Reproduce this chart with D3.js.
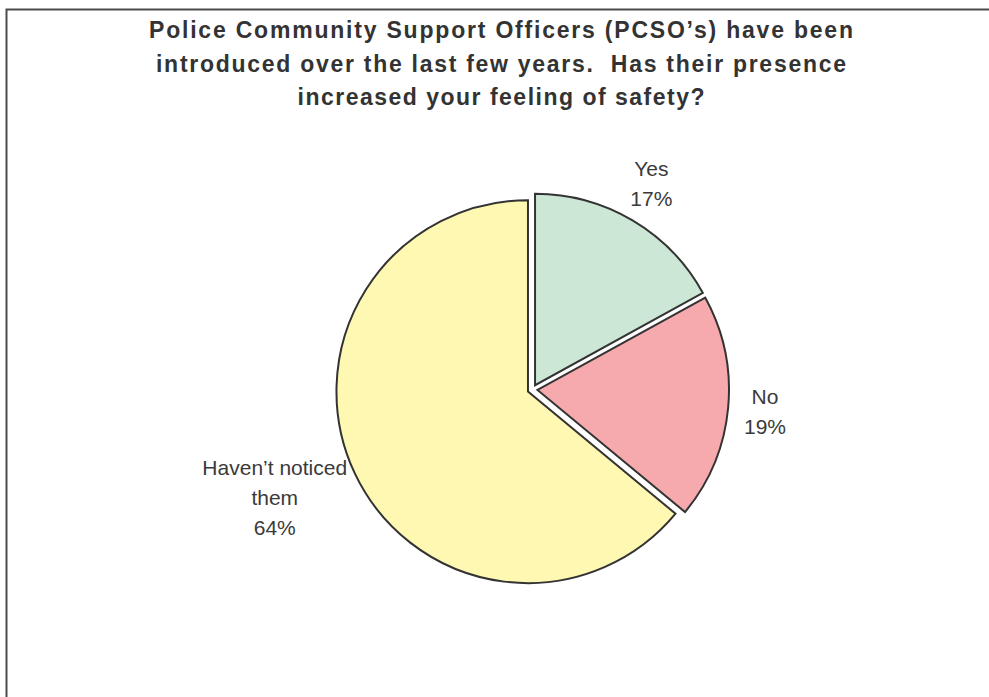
<!DOCTYPE html>
<html>
<head>
<meta charset="utf-8">
<script src="https://cdn.jsdelivr.net/npm/d3@7"></script>
<style>
  html, body { margin: 0; padding: 0; background: #fff; }
  svg { display: block; }
  text { white-space: pre; }
</style>
</head>
<body>
<script>
// ---- data ----
const titleLines = [
  "Police Community Support Officers (PCSO\u2019s) have been",
  "introduced over the last few years.  Has their presence",
  "increased your feeling of safety?"
];
const categories = ["Yes", "No", "Haven\u2019t noticed them"];
const labelLines = [["Yes"], ["No"], ["Haven\u2019t noticed", "them"]];
const values = [17, 19, 64];
const colors = ["#cde7d6", "#f7aaad", "#fff8b2"];

// ---- layout ----
const W = 989, H = 697;
const cx = 532.5, cy = 389.5, r = 191.5, explode = 5;

const svg = d3.select("body").append("svg")
  .attr("width", W).attr("height", H);

svg.append("rect")
  .attr("x", 6.5).attr("y", 9.5)
  .attr("width", W + 20).attr("height", H + 20)
  .attr("fill", "#fff")
  .attr("stroke", "#4a4a4a").attr("stroke-width", 2);

// title
const titleWidths = [704, 690, 407];
svg.append("g").selectAll("text")
  .data(titleLines)
  .join("text")
  .attr("x", 501)
  .attr("y", (d, i) => 38 + i * 33.5)
  .attr("text-anchor", "middle")
  .attr("font-family", "'Liberation Sans', Arial, sans-serif")
  .attr("font-weight", "bold")
  .attr("font-size", 23)
  .attr("fill", "#333")
  .attr("textLength", (d, i) => titleWidths[i])
  .attr("lengthAdjust", "spacing")
  .text(d => d);

// pie
const pie = d3.pie().sort(null).value(d => d)(values);
const arc = d3.arc().innerRadius(0).outerRadius(r);

const g = svg.append("g").attr("transform", `translate(${cx},${cy})`);

pie.forEach((p, i) => {
  const mid = (p.startAngle + p.endAngle) / 2;
  const ux = Math.sin(mid), uy = -Math.cos(mid);
  g.append("path")
    .attr("d", arc(p))
    .attr("transform", `translate(${ux * explode},${uy * explode})`)
    .attr("fill", colors[i])
    .attr("stroke", "#333")
    .attr("stroke-width", 2)
    .attr("stroke-linejoin", "miter");
});

// labels
const lineH = 30;
pie.forEach((p, i) => {
  const mid = (p.startAngle + p.endAngle) / 2;
  const ux = Math.sin(mid), uy = -Math.cos(mid);
  const lines = labelLines[i].concat([values[i] + "%"]);
  const t = g.append("text")
    .attr("text-anchor", "middle")
    .attr("font-family", "'Liberation Sans', Arial, sans-serif")
    .attr("font-size", 21)
    .attr("fill", "#3a3a3a");
  lines.forEach((l, k) => {
    t.append("tspan").attr("x", 0).attr("y", k * lineH).text(l);
  });
  const bb = t.node().getBBox();
  const dist = r + explode + 16;
  const px = ux * dist, py = uy * dist;
  const bcx = px + ux * bb.width / 2;
  const bcy = py + uy * bb.height / 2;
  const ox = bcx - (bb.x + bb.width / 2);
  const oy = bcy - (bb.y + bb.height / 2);
  t.attr("transform", `translate(${ox},${oy})`);
});
</script>
</body>
</html>
